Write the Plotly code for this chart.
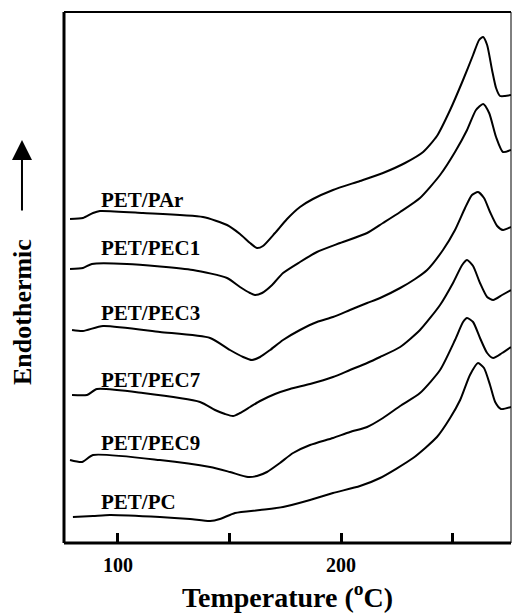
import plotly.graph_objects as go

# Temperature (°C) and heat-flow (arbitrary units, endothermic up) for each blend
par_t = [78.5, 84.3, 88.8, 91.9, 111.2, 138.1, 148.9, 154.7, 159.2, 162.3, 165.0, 170.4, 175.8, 181.6, 187.4, 196.4,
         208.5, 218.8, 228.7, 236.8, 243.0, 248.9, 254.7, 259.2, 261.9, 263.7, 265.5, 267.7, 269.5, 271.3, 273.5, 276.2]
par_h = [324, 325, 330, 332, 330, 326, 318, 309, 300, 295, 297, 310, 324, 336, 344, 353,
         362, 370, 380, 391, 407, 433, 463, 488, 503, 506, 498, 473, 455, 447, 447, 448]

pec1_t = [78.5, 84.3, 88.3, 104.0, 133.6, 148.9, 154.7, 159.2, 161.4, 164.6, 169.1, 174.0, 181.6, 189.2, 199.6, 211.7,
          218.8, 226.5, 235.4, 244.4, 251.1, 256.5, 260.5, 263.7, 266.4, 269.5, 272.6, 276.2]
pec1_h = [274, 275, 279, 279, 273, 265, 256, 250, 248, 250, 258, 270, 281, 291, 300, 310,
          320, 331, 345, 368, 391, 413, 433, 439, 430, 406, 391, 393]

pec3_t = [79.4, 84.3, 93.3, 118.8, 141.3, 150.2, 156.1, 160.1, 163.7, 168.2, 174.0, 181.6, 189.2, 196.4, 204.0, 211.7,
          217.5, 226.5, 233.2, 238.6, 245.7, 251.1, 255.6, 258.7, 261.4, 264.1, 266.8, 270.0, 272.6, 276.2]
pec3_h = [213, 212, 217, 211, 205, 193, 186, 183, 186, 193, 203, 213, 221, 226, 233, 240,
          245, 255, 264, 273, 293, 313, 335, 348, 351, 345, 331, 317, 313, 316]

pec7_t = [79.4, 86.1, 90.6, 111.2, 136.8, 143.5, 148.0, 151.6, 154.7, 159.2, 163.7, 170.4, 177.1, 186.1, 196.4, 204.0,
          211.7, 217.5, 226.5, 235.4, 244.4, 250.2, 254.3, 256.5, 259.2, 262.3, 265.5, 268.2, 272.2, 276.2]
pec7_h = [148, 148, 154, 150, 141, 133, 129, 127, 130, 136, 142, 149, 154, 159, 166, 173,
          180, 186, 196, 213, 238, 260, 278, 283, 277, 260, 246, 243, 248, 253]

pec9_t = [78.5, 83.9, 88.8, 118.8, 141.3, 150.2, 158.3, 162.3, 166.8, 172.6, 178.5, 186.1, 196.4, 204.0, 211.7, 218.8,
          226.5, 235.4, 244.4, 251.1, 254.7, 256.5, 259.2, 262.3, 265.5, 268.2, 272.2, 276.2]
pec9_h = [83, 81, 88, 83, 76, 71, 66, 67, 71, 80, 90, 98, 105, 111, 116, 125,
          137, 150, 173, 203, 221, 225, 221, 205, 190, 185, 190, 196]

pc_t = [79.8, 88.8, 96.4, 118.8, 132.3, 141.3, 145.7, 152.5, 163.7, 174.0, 186.1, 196.4, 208.5, 217.5, 232.3, 243.0,
        248.9, 253.4, 257.8, 261.4, 264.1, 266.8, 269.1, 271.7, 276.2]
pc_h = [26, 27, 28, 26, 24, 22, 24, 30, 33, 36, 43, 50, 57, 65, 85, 106,
        125, 143, 168, 180, 175, 158, 141, 134, 136]

names = ["PET/PAr", "PET/PEC1", "PET/PEC3", "PET/PEC7", "PET/PEC9", "PET/PC"]
series_t = [par_t, pec1_t, pec3_t, pec7_t, pec9_t, pc_t]
series_h = [par_h, pec1_h, pec3_h, pec7_h, pec9_h, pc_h]
# label anchor (temperature, heat-flow level)
label_t = [91.5, 91.5, 91.5, 91.5, 91.5, 91.5]
label_h = [343, 295, 230, 163, 100, 41]

major_ticks = [100, 200]
major_text = ["100", "200"]
minor_ticks = [150, 250]

FONT = "Liberation Serif"

fig = go.Figure()
for n, t, h in zip(names, series_t, series_h):
    fig.add_trace(go.Scatter(x=t, y=h, mode="lines", name=n,
                             line=dict(color="black", width=2, shape="spline", smoothing=0.6),
                             showlegend=False, hoverinfo="skip"))

for n, t, h in zip(names, label_t, label_h):
    fig.add_annotation(x=t, y=h, text=n, showarrow=False, xanchor="left", yanchor="middle",
                       font=dict(family=FONT, size=21, color="black", weight="bold"))

# y-axis label and arrow
fig.add_annotation(xref="paper", yref="paper", x=-0.094, y=0.435, text="Endothermic",
                   textangle=-90, showarrow=False, xanchor="center", yanchor="middle",
                   font=dict(family=FONT, size=26, color="black", weight="bold"))
fig.add_annotation(xref="paper", yref="paper", x=-0.094, y=0.759, text="",
                   showarrow=True, ax=0, ay=72, arrowhead=2, arrowsize=2, arrowwidth=2,
                   arrowcolor="black")

# frame
fig.add_shape(type="line", xref="paper", yref="paper", x0=0, x1=0, y0=0, y1=1, line=dict(color="black", width=3))
fig.add_shape(type="line", xref="paper", yref="paper", x0=0, x1=1, y0=0, y1=0, line=dict(color="black", width=3))
fig.add_shape(type="line", xref="paper", yref="paper", x0=0, x1=1, y0=1, y1=1, line=dict(color="black", width=2))
fig.add_shape(type="line", xref="paper", yref="paper", x0=1, x1=1, y0=0, y1=1, line=dict(color="black", width=1))

fig.update_layout(
    width=512, height=613,
    margin=dict(l=64, r=1, t=12, b=70),
    paper_bgcolor="white", plot_bgcolor="white",
    xaxis=dict(range=[75.8, 276.2], tickvals=major_ticks, ticktext=major_text,
               ticks="inside", ticklen=10, tickwidth=3, tickcolor="black",
               minor=dict(tickvals=minor_ticks, ticks="inside", ticklen=10, tickwidth=3,
                          tickcolor="black", showgrid=False),
               showgrid=False, zeroline=False, showline=False, ticklabelstandoff=8,
               tickfont=dict(family=FONT, size=20, color="black", weight="bold"),
               title=dict(text="Temperature (<sup>o</sup>C)", standoff=16,
                          font=dict(family=FONT, size=28, color="black", weight="bold"))),
    yaxis=dict(range=[0, 531], showticklabels=False, ticks="", showgrid=False,
               zeroline=False, showline=False),
)

fig.write_html("out.html", config={"displayModeBar": False},
               post_script="document.body.style.margin='0';document.body.style.overflow='hidden';")
